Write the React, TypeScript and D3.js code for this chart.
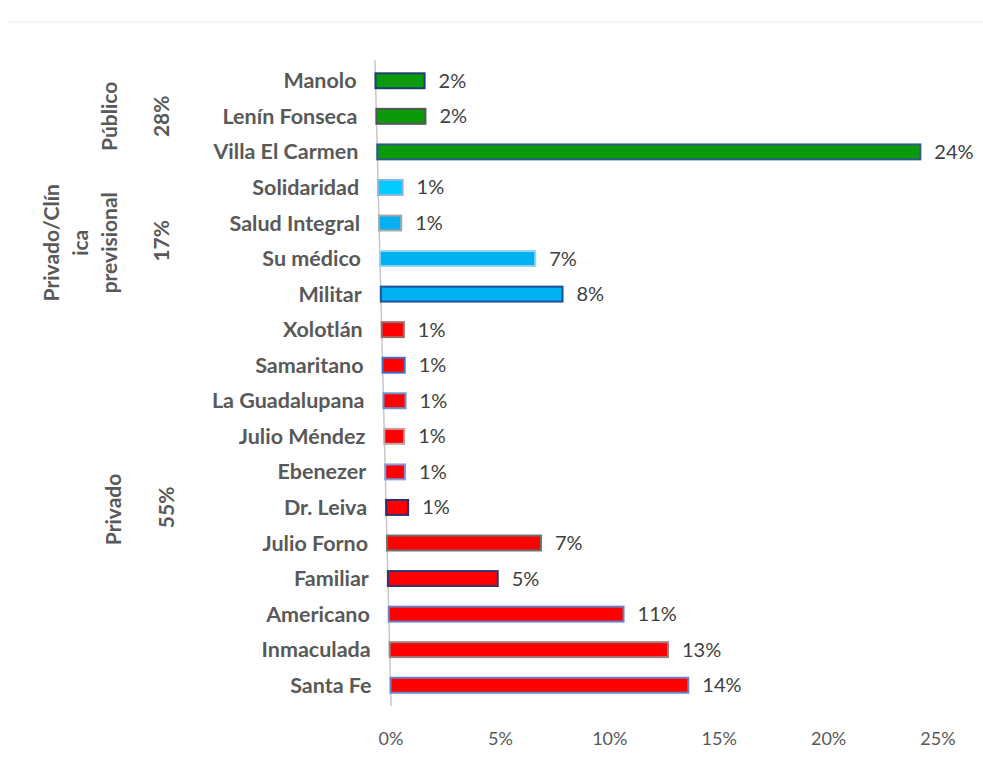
import * as d3 from "d3"

// hospitals, top to bottom
const categories = [
  "Manolo", "Lenín Fonseca", "Villa El Carmen",
  "Solidaridad", "Salud Integral", "Su médico", "Militar",
  "Xolotlán", "Samaritano", "La Guadalupana", "Julio Méndez", "Ebenezer",
  "Dr. Leiva", "Julio Forno", "Familiar", "Americano", "Inmaculada", "Santa Fe",
]
const values = [2.2, 2.2, 24.4, 1.1, 1.0, 7.0, 8.2, 1.0, 1.0, 1.0, 0.9, 0.9, 1.0, 7.0, 5.0, 10.7, 12.7, 13.6]
const fills = [
  "#0a9a0a", "#0a9a0a", "#0a9a0a",
  "#00ccff", "#00b0f0", "#00b0f0", "#00b0f0",
  "#ff0000", "#ff0000", "#ff0000", "#ff0000", "#ff0000",
  "#ff0000", "#ff0000", "#ff0000", "#ff0000", "#ff0000", "#ff0000",
]
const strokes = [
  "#1f3f6f", "#555555", "#2e5a8a",
  "#8ab4e0", "#a8a8a8", "#8fd6f2", "#1f4e9a",
  "#a06868", "#4472c4", "#6f8fd0", "#c8a0a0", "#7fa0e0",
  "#2f2f6f", "#707070", "#33336f", "#6a80c8", "#a08080", "#6a80c8",
]
const xTicks = [0, 5, 10, 15, 20, 25]

// groups: label lines, percent, and the rows they span
const groupLines = [["Público"], ["Privado/Clín", "ica", "previsional"], ["Privado"]]
const groupShares = ["28%", "17%", "55%"]
const groupRows = [[0, 2], [3, 6], [7, 17]]

const W = 983
const H = 766
const BOTTOM = 703
const SKEW = 0.0249
const LABEL_COLOR = "#595959"
const FONT = "Lato, 'Open Sans', sans-serif"

export default function App() {
  const y = d3.scaleBand().domain(categories).range([63, BOTTOM]).paddingInner(0.58).paddingOuter(0.29)
  const x = d3.scaleLinear().domain([0, 25]).range([391, 938])
  const bw = y.bandwidth()
  // the original has a slight perspective: rows further up lean left and stretch a little
  const shift = (yy: number) => -SKEW * (BOTTOM - yy)
  const stretch = (yy: number) => 1 + 0.02 * (BOTTOM - yy) / (BOTTOM - 63)
  const xAt = (v: number, yy: number) => x(0) + shift(yy) + (x(v) - x(0)) * stretch(yy)
  const pct = d3.format(".0%")

  return (
    <svg width={W} height={H} style={{ display: "block", position: "absolute", left: 0, top: 0 }}>
      <defs>
        <linearGradient id="edge" x1="0" y1="0" x2="0" y2="1">
          <stop offset="0%" stopColor="#eeeeee" />
          <stop offset="100%" stopColor="#b4d0ec" />
        </linearGradient>
      </defs>
      <rect x={0} y={0} width={W} height={H} fill="#ffffff" />
      <line x1={8} x2={W} y1={22} y2={22} stroke="#f2f2f2" strokeWidth={1.5} />
      <line x1={8} x2={8} y1={22} y2={H} stroke="url(#edge)" strokeWidth={2} />

      {/* axis line */}
      <line x1={xAt(0, 60)} y1={60} x2={xAt(0, 706)} y2={706} stroke="#c8c8c8" strokeWidth={1.5} />

      {categories.map((c, i) => {
        const top = y(c) as number
        const cy = top + bw / 2
        const x0 = xAt(0, cy)
        const x1 = xAt(values[i], cy)
        return (
          <g key={c}>
            <rect x={x0} y={top} width={x1 - x0} height={bw} fill={fills[i]} stroke={strokes[i]} strokeWidth={2} />
            <text x={x0 - 19} y={cy} dy="0.35em" textAnchor="end" fontFamily={FONT} fontWeight={700} fontSize={21.5} fill={LABEL_COLOR}>
              {c}
            </text>
            <text x={x1 + 14} y={cy} dy="0.35em" fontFamily={FONT} fontSize={20} fill="#404040">
              {pct(Math.round(values[i]) / 100)}
            </text>
          </g>
        )
      })}

      {xTicks.map((t) => (
        <text key={t} x={x(t)} y={739} dy="0.35em" textAnchor="middle" fontFamily={FONT} fontSize={18} fill={LABEL_COLOR}>
          {t + "%"}
        </text>
      ))}

      {groupLines.map((lines, g) => {
        const [a, b] = groupRows[g]
        const cy = ((y(categories[a]) as number) + (y(categories[b]) as number) + bw) / 2
        const nameX = g === 2 ? 114 : 110 - (lines.length - 1) * 29
        return (
          <g key={g}>
            {lines.map((ln, k) => (
              <text key={k} transform={`translate(${nameX + k * 29},${cy + (g === 0 ? 0 : 2)}) rotate(-90)`} textAnchor="middle" dy="0.35em" fontFamily={FONT} fontWeight={700} fontSize={21} fill={LABEL_COLOR}>
                {ln}
              </text>
            ))}
            <text transform={`translate(${g === 2 ? 167 : 162},${cy}) rotate(-90)`} textAnchor="middle" dy="0.35em" fontFamily={FONT} fontWeight={700} fontSize={21} fill={LABEL_COLOR}>
              {groupShares[g]}
            </text>
          </g>
        )
      })}
    </svg>
  )
}
